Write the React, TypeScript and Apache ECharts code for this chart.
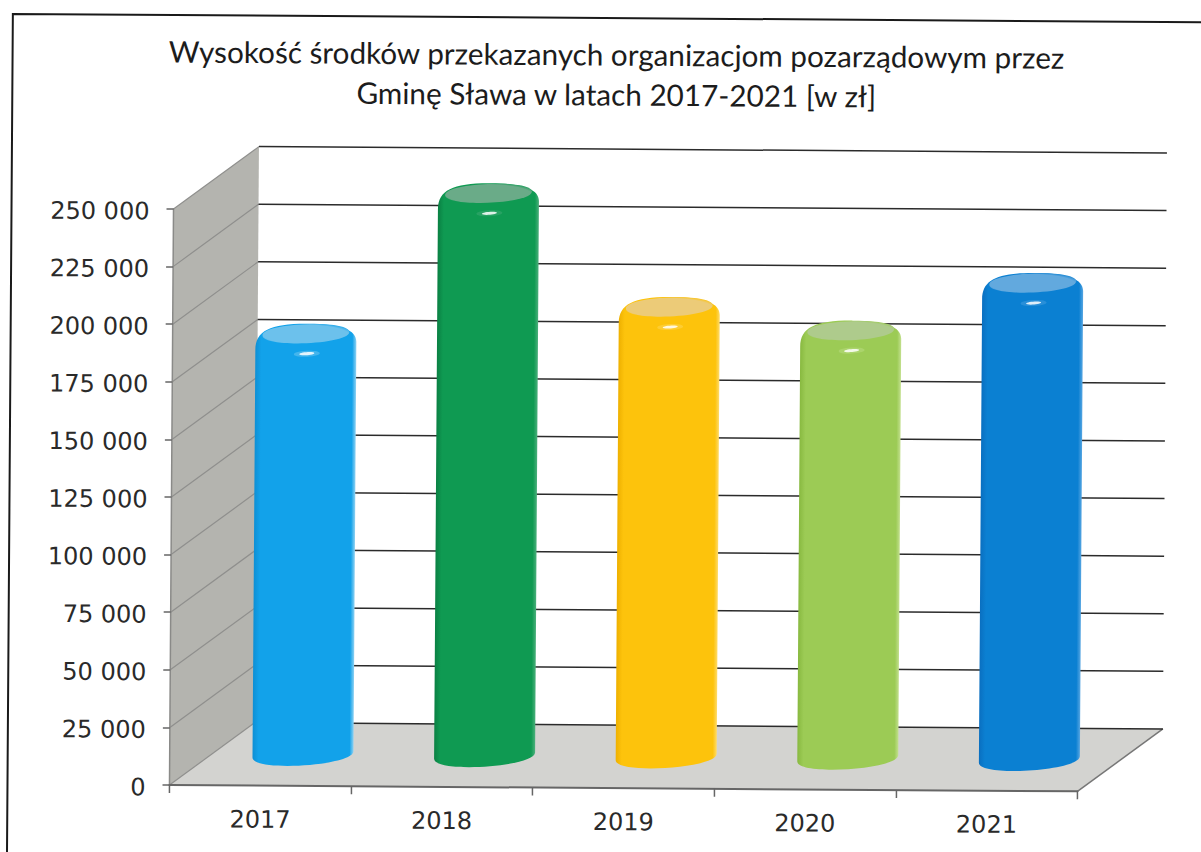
import React, { useEffect, useRef } from "react";
import * as echarts from "echarts";

const titleText = "Wysokość środków przekazanych organizacjom pozarządowym przez\nGminę Sława w latach 2017-2021 [w zł]";
const categories = ["2017", "2018", "2019", "2020", "2021"];
const values = [180000, 241500, 192700, 183000, 204200];
const axisTicks = [0, 25000, 50000, 75000, 100000, 125000, 150000, 175000, 200000, 225000, 250000];

const barColors = ["#12a2ea", "#0f9a52", "#fdc30c", "#9ccb55", "#0b80d2"];
const barEdges = ["#0e8fd4", "#0a8043", "#eeb000", "#88b940", "#0a6fc0"];
const barLights = ["#8fd2f3", "#4cb07c", "#ffdc6a", "#c3e08f", "#57a6e2"];
const barTops = ["#6cc1ec", "#6aab88", "#eccb78", "#aecb8c", "#62a9de"];

const DX = 85;
const DY = 63;
const FONT = "'DejaVu Sans', sans-serif";

const ellipsePath = (cx: number, cy: number, rx: number, ry: number, t: number) => {
  const k = (4 / 3) * ry;
  const lx = cx - rx, ly = cy + t, rxx = cx + rx, ry2 = cy - t;
  return `M${lx} ${ly}C${lx} ${ly - k} ${rxx} ${ry2 - k} ${rxx} ${ry2}C${rxx} ${ry2 + k} ${lx} ${ly + k} ${lx} ${ly}Z`;
};

const bodyPath = (cx: number, yc: number, yb: number, r: number, ryB: number, t: number) => {
  const k = (4 / 3) * ryB;
  return [
    `M${cx - r} ${yb + t}`,
    `C${cx - r} ${yb + t + k} ${cx + r} ${yb - t + k} ${cx + r} ${yb - t}`,
    `L${cx + r} ${yc + 5 - t}`,
    `C${cx + r} ${yc - 10} ${cx + r * 0.7} ${yc - 16} ${cx + 2} ${yc - 16}`,
    `C${cx - r * 0.7} ${yc - 16} ${cx - r} ${yc - 9} ${cx - r} ${yc + 7 + t}`,
    "Z",
  ].join("");
};

export default function App() {
  const ref = useRef<HTMLDivElement>(null);
  useEffect(() => {
    if (!ref.current) return;
    const chart = echarts.init(ref.current, null, { renderer: "svg" });
    const option: any = {
      animation: false,
      backgroundColor: "#ffffff",
      title: {
        text: titleText,
        left: 609,
        top: 29,
        textAlign: "center",
        textStyle: { fontFamily: "Lato, sans-serif", fontSize: 29.7, fontWeight: "normal", color: "#1c1c1c", lineHeight: 40 },
      },
      graphic: [
        {
          type: "polyline",
          silent: true,
          z: 0,
          shape: { points: [[10, 900], [10, 18], [1300, 18]] },
          style: { stroke: "#1a1a1a", lineWidth: 2, fill: "none" },
        },
      ],
      grid: { left: 172, top: 212, width: 908, height: 576, containLabel: false },
      xAxis: {
        type: "category",
        data: categories,
        z: 3,
        axisLine: { lineStyle: { color: "#666666", width: 2 } },
        axisTick: { show: true, length: 8, alignWithLabel: false, lineStyle: { color: "#666666", width: 1.5 } },
        axisLabel: { fontFamily: FONT, fontSize: 24, color: "#2a2a2a", margin: 22 },
        splitLine: { show: false },
      },
      yAxis: {
        type: "value",
        min: 0,
        max: 250000,
        interval: 25000,
        z: 3,
        axisLine: { show: true, lineStyle: { color: "#8a8a88", width: 1.5 } },
        axisTick: { show: true, length: 7, lineStyle: { color: "#666666", width: 1.5 } },
        axisLabel: {
          margin: 24,
          formatter: (v: number) => "{a|" + String(v).replace(/\B(?=(\d{3})+$)/g, " ") + "}",
          rich: { a: { fontFamily: FONT, fontSize: 24, color: "#2a2a2a", padding: [5, 0, 0, 0] } },
        },
        splitLine: { show: false },
      },
      series: [
        {
          type: "custom",
          silent: true,
          z: 1,
          clip: false,
          data: [[0, 0]],
          renderItem: (params: any) => {
            const c = params.coordSys;
            const l = c.x, r = c.x + c.width, t = c.y, b = c.y + c.height;
            return {
              type: "group",
              children: [
                {
                  type: "polygon",
                  shape: { points: [[l, t], [l + DX, t - DY], [l + DX, b - DY], [l, b]] },
                  style: { fill: "#b4b4af" },
                },
                {
                  type: "polygon",
                  shape: { points: [[l, b], [l + DX, b - DY], [r + DX, b - DY], [r, b]] },
                  style: { fill: "#d3d3d0" },
                },
                {
                  type: "line",
                  shape: { x1: r, y1: b, x2: r + DX, y2: b - DY },
                  style: { stroke: "#777777", lineWidth: 1.5 },
                },
              ],
            };
          },
        },
        {
          type: "custom",
          silent: true,
          z: 2,
          clip: false,
          data: axisTicks.map((v) => [0, v]),
          renderItem: (params: any, api: any) => {
            const c = params.coordSys;
            const y = api.coord([0, api.value(1)])[1];
            return {
              type: "group",
              children: [
                {
                  type: "line",
                  shape: { x1: c.x, y1: y, x2: c.x + DX, y2: y - DY },
                  style: { stroke: "#8f8f8d", lineWidth: 1.2 },
                },
                {
                  type: "line",
                  shape: { x1: c.x + DX, y1: y - DY, x2: c.x + c.width + DX, y2: y - DY },
                  style: { stroke: "#2b2b2b", lineWidth: 1.5 },
                },
              ],
            };
          },
        },
        {
          type: "custom",
          silent: true,
          z: 4,
          clip: false,
          data: categories.map((name, i) => [i, values[i]]),
          renderItem: (_params: any, api: any) => {
            const i = api.value(0);
            const top = api.coord([i, api.value(1)]);
            const base = api.coord([i, 0]);
            const w = api.size([1, 0])[0];
            const r = w * 0.278;
            const cx = base[0] + DX / 2;
            const yb = base[1] - DY / 2;
            const yc = top[1] - DY / 2;
            return {
              type: "group",
              children: [
                {
                  type: "path",
                  shape: { pathData: bodyPath(cx, yc, yb, r, 11, 3.5) },
                  style: {
                    fill: new echarts.graphic.LinearGradient(0, 0, 1, 0, [
                      { offset: 0, color: barEdges[i] },
                      { offset: 0.06, color: barColors[i] },
                      { offset: 0.96, color: barColors[i] },
                      { offset: 1, color: barLights[i] },
                    ]),
                  },
                },
                {
                  type: "path",
                  shape: { pathData: ellipsePath(cx, yc - 6, r * 0.86, 9.5, 2) },
                  style: {
                    fill: new echarts.graphic.RadialGradient(0.5, 0.55, 0.62, [
                      { offset: 0, color: barTops[i] },
                      { offset: 0.8, color: barTops[i] },
                      { offset: 1, color: barColors[i] },
                    ]),
                  },
                },
                {
                  type: "path",
                  shape: { pathData: ellipsePath(cx + 1, yc + 14, 13, 3, 0.6) },
                  style: { fill: barLights[i], opacity: 0.4 },
                },
                {
                  type: "path",
                  shape: { pathData: ellipsePath(cx + 1, yc + 14, 7.5, 1.5, 0.6) },
                  style: { fill: "#ffffff", opacity: 0.85 },
                },
              ],
            };
          },
        },
      ],
    };
    chart.setOption(option);
    return () => chart.dispose();
  }, []);
  return (
    <div style={{ position: "fixed", left: 0, top: 0, width: 1201, height: 852, overflow: "hidden", background: "#fff" }}>
      <div
        ref={ref}
        style={{ width: 1240, height: 890, transform: "rotate(0.4deg)", transformOrigin: "600px 426px" }}
      />
    </div>
  );
}
